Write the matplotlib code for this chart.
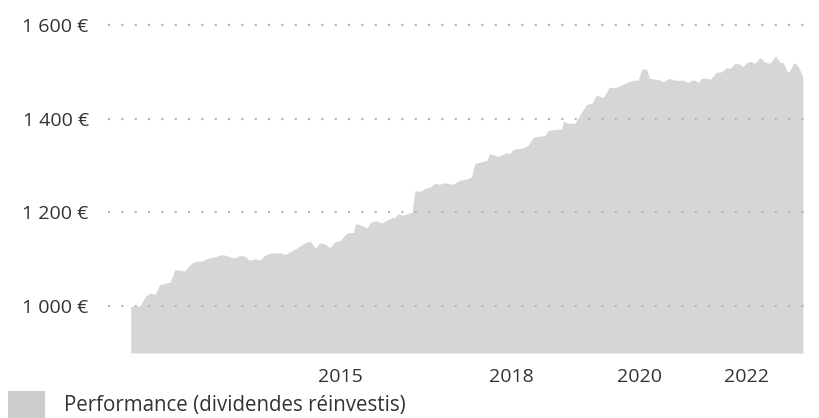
"""
plot.py — performance area chart (dividendes réinvestis)
"""
import matplotlib
matplotlib.use('Agg')
import matplotlib.pyplot as plt
import matplotlib.patches as mpatches

plt.rcParams['font.family'] = ['Open Sans', 'DejaVu Sans']

# ── Data (decimal years, value in €) ──
years = [2011.38, 2011.54, 2011.62, 2011.71, 2011.80, 2011.88, 2012.06, 2012.14,
         2012.31, 2012.43, 2012.52, 2012.60, 2012.71, 2012.83, 2012.95, 2013.03,
         2013.09, 2013.18, 2013.26, 2013.35, 2013.43, 2013.52, 2013.61, 2013.69,
         2013.78, 2013.95, 2014.04, 2014.12, 2014.27, 2014.38, 2014.47, 2014.56,
         2014.64, 2014.73, 2014.81, 2014.90, 2014.99, 2015.10, 2015.16, 2015.22,
         2015.26, 2015.33, 2015.45, 2015.53, 2015.62, 2015.71, 2015.79, 2015.88,
         2015.93, 2015.99, 2016.08, 2016.14, 2016.23, 2016.28, 2016.37, 2016.45,
         2016.54, 2016.62, 2016.71, 2016.77, 2016.85, 2016.94, 2017.06, 2017.17,
         2017.26, 2017.31, 2017.43, 2017.52, 2017.57, 2017.69, 2017.77, 2017.83,
         2017.92, 2017.97, 2018.06, 2018.15, 2018.23, 2018.32, 2018.43, 2018.52,
         2018.58, 2018.72, 2018.81, 2018.84, 2018.92, 2019.04, 2019.12, 2019.24,
         2019.33, 2019.41, 2019.53, 2019.63, 2019.73, 2019.81, 2019.93, 2020.04,
         2020.13, 2020.19, 2020.27, 2020.33, 2020.42, 2020.47, 2020.56, 2020.66,
         2020.76, 2020.91, 2020.99, 2021.05, 2021.12, 2021.16, 2021.22, 2021.31,
         2021.37, 2021.48, 2021.57, 2021.65, 2021.71, 2021.80, 2021.88, 2021.94,
         2022.00, 2022.08, 2022.14, 2022.23, 2022.31, 2022.40, 2022.50, 2022.57,
         2022.63, 2022.71, 2022.74, 2022.82, 2022.89, 2022.95, 2022.97]
values = [1000, 1000, 1019, 1028, 1025, 1046, 1051, 1078,
          1075, 1092, 1096, 1096, 1102, 1105, 1110, 1108,
          1105, 1103, 1108, 1106, 1098, 1101, 1098, 1108,
          1113, 1114, 1110, 1115, 1126, 1135, 1139, 1124,
          1135, 1133, 1125, 1137, 1140, 1155, 1157, 1157,
          1176, 1174, 1167, 1180, 1182, 1177, 1183, 1189,
          1188, 1197, 1194, 1197, 1200, 1246, 1245, 1251,
          1254, 1262, 1260, 1263, 1262, 1260, 1269, 1271,
          1276, 1304, 1308, 1311, 1326, 1320, 1322, 1327,
          1326, 1334, 1336, 1338, 1343, 1360, 1363, 1363,
          1375, 1377, 1378, 1395, 1390, 1390, 1407, 1430,
          1433, 1450, 1445, 1467, 1466, 1470, 1477, 1482,
          1482, 1506, 1506, 1486, 1484, 1484, 1479, 1486,
          1482, 1482, 1477, 1482, 1482, 1477, 1486, 1486,
          1484, 1499, 1500, 1509, 1507, 1518, 1516, 1511,
          1520, 1522, 1518, 1530, 1521, 1518, 1534, 1521,
          1519, 1499, 1502, 1520, 1511, 1495, 1486]

x_ticks = [2015.0, 2017.95, 2020.15, 2022.0]
x_labels = ['2015', '2018', '2020', '2022']
y_ticks = [1000, 1200, 1400, 1600]
y_labels = ['1 000 €', '1 200 €', '1 400 €', '1 600 €']
legend_label = 'Performance (dividendes réinvestis)'

FILL = '#d6d6d6'
TXT = '#333333'

fig = plt.figure(figsize=(8.19, 4.18), dpi=100)
ax = fig.add_axes([0.132, 0.1555, 0.859, 0.813])

ax.fill_between(years, 900, values, color=FILL, lw=0, zorder=1)

ax.set_xlim(2010.99, 2023.12)
ax.set_ylim(900, 1625)

ax.set_yticks(y_ticks)
ax.set_yticklabels(y_labels)
ax.set_xticks(x_ticks)
ax.set_xticklabels(x_labels)
ax.tick_params(axis='both', length=0, labelsize=14, labelcolor=TXT)
ax.tick_params(axis='y', pad=14)
ax.tick_params(axis='x', pad=10.5)

for v in y_ticks:
    ax.axhline(v, color='#b4b4b4', lw=1.5, ls=(0, (1, 5.4)), zorder=3)

for s in ax.spines.values():
    s.set_visible(False)

# ── Legend (bottom left, square partly cut by the edge) ──
fig.add_artist(mpatches.Rectangle((8 / 819, -0.05), 37 / 819, 0.05 + (418 - 391) / 418,
                                  transform=fig.transFigure, color='#cccccc', lw=0))
fig.text(64 / 819, 1 - 406 / 418, legend_label, fontsize=14.8, color=TXT,
         va='center', ha='left')

fig.savefig('out.png', dpi=100)
